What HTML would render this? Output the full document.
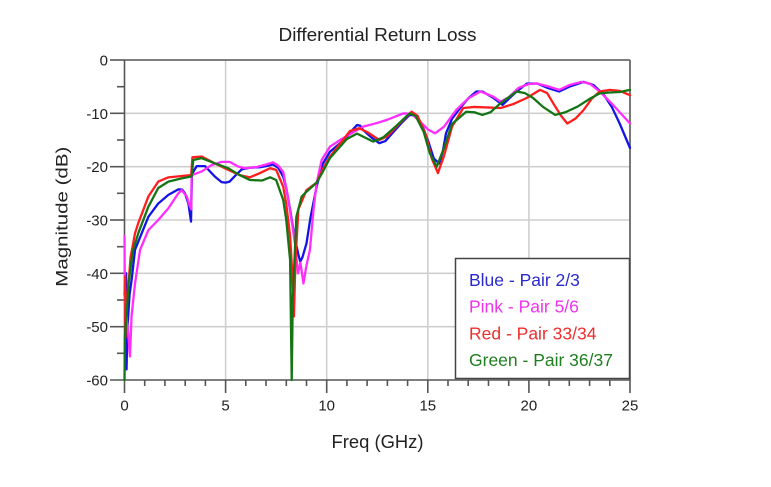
<!DOCTYPE html>
<html>
<head>
<meta charset="utf-8">
<style>
html,body{margin:0;padding:0;background:#fff;}
svg{display:block;}
text{font-family:"Liberation Sans",Arial,sans-serif;fill:#222;}
</style>
</head>
<body>
<svg width="771" height="487" viewBox="0 0 771 487" xmlns="http://www.w3.org/2000/svg">
<rect x="0" y="0" width="771" height="487" fill="#fff"/>
<!-- title -->
<text x="377.5" y="41" font-size="18" text-anchor="middle" textLength="198" lengthAdjust="spacingAndGlyphs">Differential Return Loss</text>
<!-- gridlines -->
<g stroke="#cfcfcf" stroke-width="1.6">
<line x1="225.6" y1="60" x2="225.6" y2="380"/>
<line x1="326.7" y1="60" x2="326.7" y2="380"/>
<line x1="427.8" y1="60" x2="427.8" y2="380"/>
<line x1="528.9" y1="60" x2="528.9" y2="380"/>
<line x1="124.5" y1="113.3" x2="630" y2="113.3"/>
<line x1="124.5" y1="166.7" x2="630" y2="166.7"/>
<line x1="124.5" y1="220" x2="630" y2="220"/>
<line x1="124.5" y1="273.3" x2="630" y2="273.3"/>
<line x1="124.5" y1="326.7" x2="630" y2="326.7"/>
</g>
<!-- frame -->
<g stroke="#555" stroke-width="1.6" fill="none">
<line x1="124.5" y1="60" x2="630" y2="60"/>
<line x1="630" y1="60" x2="630" y2="380"/>
<line x1="124.5" y1="60" x2="124.5" y2="380"/>
<line x1="110" y1="380" x2="630" y2="380"/>
</g>
<!-- y ticks -->
<g stroke="#555" stroke-width="1.6">
<line x1="110" y1="60" x2="124.5" y2="60"/>
<line x1="110" y1="113.3" x2="124.5" y2="113.3"/>
<line x1="110" y1="166.7" x2="124.5" y2="166.7"/>
<line x1="110" y1="220" x2="124.5" y2="220"/>
<line x1="110" y1="273.3" x2="124.5" y2="273.3"/>
<line x1="110" y1="326.7" x2="124.5" y2="326.7"/>
<line x1="117" y1="86.7" x2="124.5" y2="86.7"/>
<line x1="117" y1="140" x2="124.5" y2="140"/>
<line x1="117" y1="193.3" x2="124.5" y2="193.3"/>
<line x1="117" y1="246.7" x2="124.5" y2="246.7"/>
<line x1="117" y1="300" x2="124.5" y2="300"/>
<line x1="117" y1="353.3" x2="124.5" y2="353.3"/>
</g>
<!-- x ticks -->
<g stroke="#555" stroke-width="1.6">
<line x1="124.5" y1="380" x2="124.5" y2="393"/>
<line x1="225.6" y1="380" x2="225.6" y2="393"/>
<line x1="326.7" y1="380" x2="326.7" y2="393"/>
<line x1="427.8" y1="380" x2="427.8" y2="393"/>
<line x1="528.9" y1="380" x2="528.9" y2="393"/>
<line x1="630" y1="380" x2="630" y2="393"/>
<line x1="144.7" y1="380" x2="144.7" y2="386"/>
<line x1="164.9" y1="380" x2="164.9" y2="386"/>
<line x1="185.2" y1="380" x2="185.2" y2="386"/>
<line x1="205.4" y1="380" x2="205.4" y2="386"/>
<line x1="245.8" y1="380" x2="245.8" y2="386"/>
<line x1="266.0" y1="380" x2="266.0" y2="386"/>
<line x1="286.3" y1="380" x2="286.3" y2="386"/>
<line x1="306.5" y1="380" x2="306.5" y2="386"/>
<line x1="346.9" y1="380" x2="346.9" y2="386"/>
<line x1="367.1" y1="380" x2="367.1" y2="386"/>
<line x1="387.4" y1="380" x2="387.4" y2="386"/>
<line x1="407.6" y1="380" x2="407.6" y2="386"/>
<line x1="448.0" y1="380" x2="448.0" y2="386"/>
<line x1="468.2" y1="380" x2="468.2" y2="386"/>
<line x1="488.5" y1="380" x2="488.5" y2="386"/>
<line x1="508.7" y1="380" x2="508.7" y2="386"/>
<line x1="549.1" y1="380" x2="549.1" y2="386"/>
<line x1="569.3" y1="380" x2="569.3" y2="386"/>
<line x1="589.6" y1="380" x2="589.6" y2="386"/>
<line x1="609.8" y1="380" x2="609.8" y2="386"/>
</g>
<!-- y tick labels -->
<g font-size="15" text-anchor="end">
<text x="108" y="65.5">0</text>
<text x="108" y="118.8">-10</text>
<text x="108" y="172.2">-20</text>
<text x="108" y="225.5">-30</text>
<text x="108" y="278.8">-40</text>
<text x="108" y="332.2">-50</text>
<text x="108" y="385.5">-60</text>
</g>
<!-- x tick labels -->
<g font-size="15" text-anchor="middle">
<text x="124.5" y="410.5">0</text>
<text x="225.6" y="410.5">5</text>
<text x="326.7" y="410.5">10</text>
<text x="427.8" y="410.5">15</text>
<text x="528.9" y="410.5">20</text>
<text x="630" y="410.5">25</text>
</g>
<!-- axis labels -->
<text x="377.5" y="448" font-size="18" text-anchor="middle" textLength="92" lengthAdjust="spacingAndGlyphs">Freq (GHz)</text>
<text transform="translate(67.5,216.7) rotate(-90)" font-size="17" text-anchor="middle" textLength="140" lengthAdjust="spacingAndGlyphs">Magnitude (dB)</text>

<!-- series -->
<g transform="translate(124.5,60) scale(20.22,-5.3333)" fill="none" stroke-width="2.3" stroke-linejoin="round" stroke-linecap="round">
<polyline vector-effect="non-scaling-stroke" stroke="#1414e6" points="
0.08,-40 0.1,-58 0.15,-50 0.25,-44 0.36,-41 0.52,-35.6 0.85,-32.5 1.18,-29.4 1.67,-26.9 2.17,-25.3 2.66,-24.25 2.85,-24.3 2.99,-25 3.16,-26.9 3.29,-30.3 3.33,-22 3.36,-21.25 3.57,-19.9 3.98,-19.9 4.48,-21.9 4.8,-22.9 5.0,-23 5.2,-22.8 5.5,-21.6 5.8,-20.5 6.2,-20.2 6.7,-20.1 7.0,-19.9 7.35,-19.6 7.6,-20.2 7.85,-21.9 8.0,-24 8.19,-28 8.4,-33 8.6,-36.5 8.69,-37.8 8.8,-37 9.0,-34.4 9.2,-29.5 9.5,-23.75 9.8,-19.5 10.16,-17.2 10.6,-15.8 11.0,-14.5 11.3,-13 11.5,-12.2 11.65,-12.3 11.8,-13.1 12.2,-14.5 12.6,-15.6 12.9,-15.2 13.3,-13.5 13.7,-11.8 14.1,-10.3 14.4,-10.4 14.7,-12 15.0,-15 15.3,-18.5 15.57,-19.4 15.75,-17 15.9,-13.75 16.2,-11 16.6,-9 17.0,-7.2 17.4,-5.9 17.7,-5.9 18.2,-7 18.7,-8.4 19.0,-7.3 19.4,-5.9 19.9,-4.4 20.4,-4.4 20.9,-5.2 21.5,-5.9 22.0,-5.0 22.7,-4.1 23.2,-4.7 23.7,-6.5 24.1,-8.8 24.5,-12 25,-16.5"/>
<polyline vector-effect="non-scaling-stroke" stroke="#ff2eff" points="
0.0,-33 0.02,-45 0.1,-48 0.2,-52 0.27,-55.6 0.35,-48 0.52,-41.9 0.77,-35.6 1.18,-31.9 1.67,-30 2.17,-27.8 2.66,-25 2.83,-24.4 3.08,-25.6 3.24,-27.5 3.3,-28 3.32,-21.6 3.82,-20.9 4.31,-19.7 4.8,-19.1 5.2,-19.1 5.63,-20 5.96,-20.3 6.5,-20.1 7.0,-19.6 7.35,-19.2 7.6,-19.8 7.85,-21 8.1,-26 8.3,-31 8.43,-34.4 8.58,-40 8.7,-38 8.85,-41.9 9.0,-38.5 9.17,-35.6 9.35,-28 9.5,-23.1 9.75,-18.75 10.16,-16.25 10.66,-15 11.2,-13.8 11.8,-12.5 12.5,-11.8 13.0,-11.2 13.8,-10 14.2,-10.1 14.6,-11.5 15.0,-13 15.36,-13.75 15.8,-12.5 16.4,-9.4 17.0,-7.2 17.6,-5.9 18.2,-6.8 18.6,-7.8 19.0,-7.0 19.5,-5.2 20.0,-4.5 20.4,-4.4 21.0,-5.0 21.5,-5.6 22.0,-4.7 22.6,-4.1 23.0,-4.4 23.5,-5.9 24.0,-7.8 24.3,-9 25,-11.9"/>
<polyline vector-effect="non-scaling-stroke" stroke="#ff1e1e" points="
0.0,-44 0.03,-40.6 0.05,-52 0.1,-46 0.2,-42 0.3,-37 0.52,-32.5 0.68,-30.6 1.18,-25.6 1.67,-22.8 2.17,-22 2.83,-21.75 3.24,-21.6 3.3,-21.5 3.36,-18.25 3.82,-18.1 4.48,-19.4 5.13,-20.6 5.71,-21.6 6.2,-22 6.7,-21.2 7.2,-20.3 7.5,-20.6 7.85,-23.75 8.0,-27 8.19,-33 8.3,-40 8.38,-48.1 8.45,-38 8.6,-28 9.0,-24.4 9.5,-23 9.8,-20.5 10.16,-18.1 10.6,-16 11.15,-13.3 11.6,-12.8 12.0,-13.5 12.6,-15 13.0,-14.3 13.5,-12.3 14.2,-9.7 14.5,-10.5 14.9,-14 15.2,-18.5 15.5,-21.2 15.8,-18 16.2,-12.5 16.75,-9 17.3,-8.8 18.6,-9 19.2,-8.3 19.9,-7.1 20.55,-5.6 20.9,-6.2 21.2,-8.1 21.6,-10.5 21.9,-11.9 22.3,-11 22.7,-9.4 23.1,-7.3 23.5,-5.9 24.0,-5.6 24.5,-5.8 25,-6.6"/>
<polyline vector-effect="non-scaling-stroke" stroke="#157515" points="
0.0,-60 0.02,-52 0.1,-48 0.2,-42 0.4,-36 0.68,-32.5 1.18,-27.5 1.67,-24 2.17,-22.8 2.83,-22.2 3.24,-21.9 3.32,-21.8 3.4,-18.75 3.82,-18.4 4.48,-19.4 5.13,-20.3 5.71,-21.6 6.2,-22.5 6.8,-22.6 7.2,-22.0 7.5,-22.5 7.85,-26.25 8.0,-30 8.19,-37.5 8.27,-60 8.32,-45 8.5,-29.4 8.76,-25.6 9.0,-24.7 9.5,-23 9.8,-21 10.16,-18.4 10.6,-16.5 11.0,-14.8 11.5,-13.8 12.3,-15.3 12.8,-14.5 13.4,-12.5 14.1,-10 14.4,-10.5 14.8,-13.5 15.1,-17.5 15.44,-20 15.8,-16.5 16.2,-12 16.9,-9.7 17.3,-9.8 17.7,-10.3 18.1,-9.8 18.6,-8.1 19.0,-7 19.4,-5.9 19.8,-6.2 20.2,-7.1 20.7,-8.8 21.3,-10.3 21.8,-9.8 22.4,-8.75 23.0,-7.3 23.5,-6.25 24.0,-6.1 24.5,-6.0 25,-5.6"/>
</g>

<!-- legend -->
<rect x="455.5" y="258.5" width="174" height="120" fill="#fff" stroke="#444" stroke-width="1.5"/>
<g font-size="17.5">
<text x="469" y="286" style="fill:#2a2acc">Blue - Pair 2/3</text>
<text x="469" y="312.7" style="fill:#ee33ee">Pink - Pair 5/6</text>
<text x="469" y="339.3" style="fill:#ee2e2e">Red - Pair 33/34</text>
<text x="469" y="366" style="fill:#1f7f1f">Green - Pair 36/37</text>
</g>
</svg>
</body>
</html>
